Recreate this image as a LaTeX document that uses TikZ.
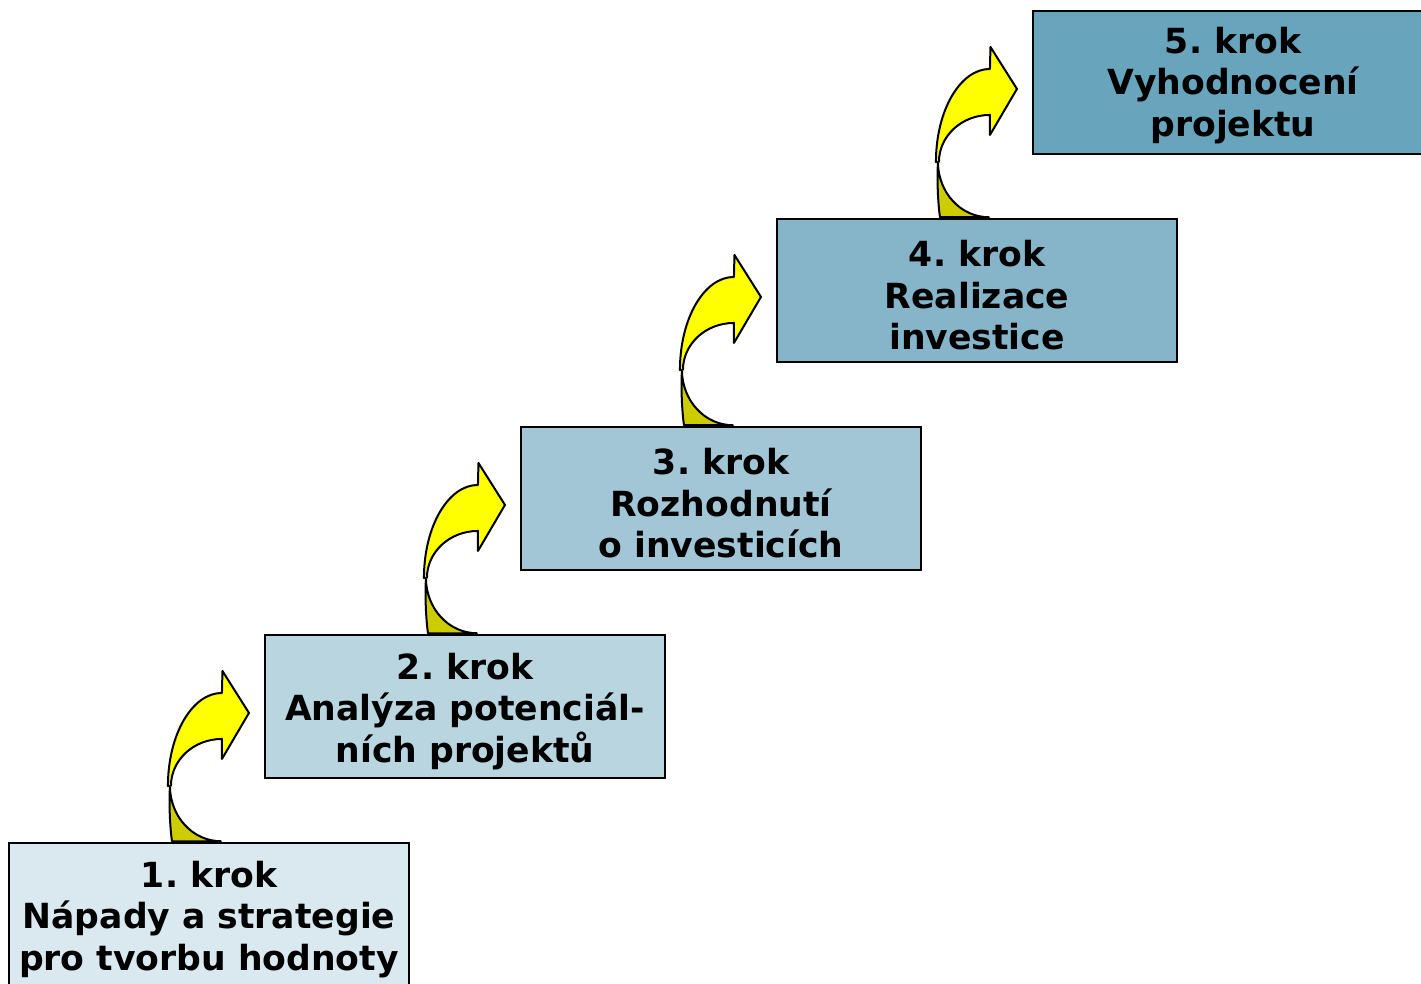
\documentclass[tikz,border=0pt]{standalone}
\usepackage{fontspec}
\setmainfont{DejaVu Sans}
\frenchspacing
\definecolor{c1}{HTML}{DAE8EF}
\definecolor{c2}{HTML}{B9D5E0}
\definecolor{c3}{HTML}{A2C6D6}
\definecolor{c4}{HTML}{86B5CA}
\definecolor{c5}{HTML}{68A5BD}
\definecolor{ayel}{HTML}{FFFF00}
\definecolor{adark}{HTML}{CCCC00}
\tikzset{
  stepbox/.style={draw=black, line width=0.75pt, minimum width=200pt, minimum height=71.5pt,
    inner sep=0pt},
  steptext/.style={inner sep=0pt, align=center, font=\bfseries\fontsize{17.3}{20.75}\selectfont},
  arrowpart/.style={draw=black, line width=1pt, line join=round},
}
\newcommand{\curvearrow}[1]{%
  \begin{scope}[shift={(#1.north west)}, shift={(213.7,-56.3)}]
    \path[arrowpart, fill=adark] (-52,0) .. controls (-53,20) and (-52,40) .. (-50,55.3)
      -- (-1,55.3) .. controls (-29.2,55.3) and (-52,30.5) .. cycle;
    \path[arrowpart, fill=ayel] (-54,0) .. controls (-54,-51.4) and (-29.8,-93) .. (0,-93)
      -- (0.5,-115) -- (27,-73) -- (0,-27) -- (0,-47)
      .. controls (-28.2,-47) and (-51,-26) .. (-51,0) -- cycle;
  \end{scope}}
\begin{document}
\begin{tikzpicture}[x=0.5pt,y=-0.5pt]
\useasboundingbox (0,0) rectangle (1421,984);
\clip (0,0) rectangle (1421,984);
\node[stepbox, fill=c1] (b1) at (209,914.5) {};
\node[stepbox, fill=c2] (b2) at (465,706.5) {};
\node[stepbox, fill=c3] (b3) at (721,498.5) {};
\node[stepbox, fill=c4] (b4) at (977,290.5) {};
\node[stepbox, fill=c5] (b5) at (1233,82.5) {};
\node[steptext] (t1) at ([yshift=-2.5pt]b1.center) {1. krok\\Nápady a strategie\\pro tvorbu hodnoty};
\node[steptext] (t2) at ([yshift=-2.5pt]b2.center) {2. krok\\Analýza potenciál-\\ních projektů};
\node[steptext] (t3) at ([yshift=-2.5pt]b3.center) {3. krok\\Rozhodnutí\\o investicích};
\node[steptext] (t4) at ([yshift=-2.5pt]b4.center) {4. krok\\Realizace\\investice};
\node[steptext] (t5) at ([yshift=-1.5pt]b5.center) {5. krok\\Vyhodnocení\\projektu};
\curvearrow{b1}
\curvearrow{b2}
\curvearrow{b3}
\curvearrow{b4}
\end{tikzpicture}
\end{document}
